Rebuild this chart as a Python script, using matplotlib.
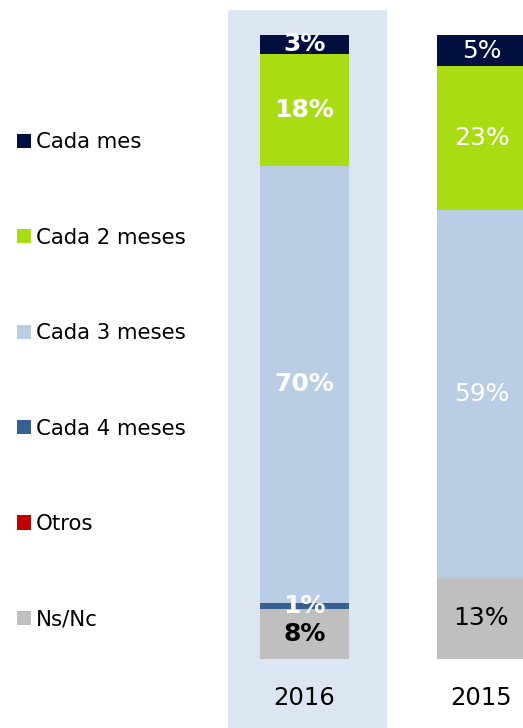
import matplotlib.pyplot as plt
import numpy as np

years = ["2016", "2015"]
series = ["Ns/Nc", "Otros", "Cada 4 meses", "Cada 3 meses", "Cada 2 meses", "Cada mes"]
values = {
    "Ns/Nc": [8, 13],
    "Otros": [0, 0],
    "Cada 4 meses": [1, 0],
    "Cada 3 meses": [70, 59],
    "Cada 2 meses": [18, 23],
    "Cada mes": [3, 5],
}
colors = {
    "Ns/Nc": "#bfbfbf",
    "Otros": "#c00000",
    "Cada 4 meses": "#376092",
    "Cada 3 meses": "#b9cde5",
    "Cada 2 meses": "#aadc14",
    "Cada mes": "#000f40",
}
label_color = {"Ns/Nc": "black"}

fig = plt.figure(figsize=(5.23, 7.28), dpi=100)
ax = fig.add_axes([0, 0, 1, 1])
ax.set_xlim(-1.720, 1.2345)
ax.set_ylim(-11.06, 105.6)
ax.axis("off")

x = np.arange(len(years))

# highlight for the current year
ax.bar(0.017, 116, bottom=-12, width=0.898, color="#dce6f2", zorder=0)

bottom = np.zeros(len(years))
handles = {}
for s in series:
    v = np.array(values[s], dtype=float)
    bars = ax.bar(x, v, bottom=bottom, width=0.503, color=colors[s], label=s, zorder=2)
    handles[s] = bars
    for i in range(len(years)):
        if v[i] > 0:
            ax.text(x[i], bottom[i] + v[i] / 2, f"{int(v[i])}%",
                    ha="center", va="center", fontsize=18,
                    fontweight="bold" if i == 0 else "normal",
                    color=label_color.get(s, "white"), zorder=3)
    bottom += v

for i, y in enumerate(years):
    ax.text(x[i], -6.2, y, ha="center", va="center", fontsize=17.5, color="black")

order = series[::-1]
fig.legend([handles[s] for s in order], order, loc="upper left",
           bbox_to_anchor=(0.016, 0.83), frameon=False, fontsize=15.3,
           handlelength=0.65, handleheight=0.65, handletextpad=0.25,
           labelspacing=3.55, borderaxespad=0)

fig.savefig("out.png", dpi=100)
